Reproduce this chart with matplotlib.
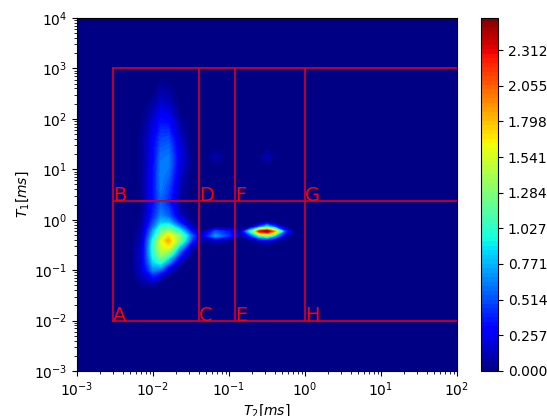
import numpy as np
import matplotlib
matplotlib.use('Agg')
import matplotlib.pyplot as plt

# log10 positions of the values
logT2 = [-3, -2.45, -2.3, -2.15, -2.0, -1.9, -1.8, -1.65, -1.5, -1.38, -1.18, -1.0,
         -0.85, -0.72, -0.6, -0.5, -0.4, -0.27, -0.15, 0.35, 0.53, 0.7, 2]
logT1 = [4, 2.8, 2.5, 2.2, 1.9, 1.55, 1.4, 1.24, 1.08, 0.9, 0.6, 0.3, 0.08, -0.05, -0.14, -0.23,
         -0.32, -0.42, -0.55, -0.7, -0.85, -1.0, -1.15, -1.3, -1.45, -3]

# one row per logT1 value, one column per logT2 value
density = [
    [0, 0, 0, 0, 0, 0, 0, 0, 0, 0, 0, 0, 0, 0, 0, 0, 0, 0, 0, 0, 0, 0, 0],
    [0, 0, 0, 0, 0, .03, 0, 0, 0, 0, 0, 0, 0, 0, 0, 0, 0, 0, 0, 0, 0, 0, 0],
    [0, 0, 0, 0, .02, .1, .07, 0, 0, 0, 0, 0, 0, 0, 0, 0, 0, 0, 0, 0, 0, 0, 0],
    [0, 0, 0, .01, .1, .22, .18, .02, 0, 0, 0, 0, 0, 0, 0, 0, 0, 0, 0, 0, 0, 0, 0],
    [0, 0, 0, .03, .2, .36, .34, .08, 0, 0, 0, 0, 0, 0, 0, 0, 0, 0, 0, 0, 0, 0, 0],
    [0, 0, 0, .05, .28, .5, .52, .16, 0, 0, 0, 0, 0, 0, 0, 0, 0, 0, 0, 0, 0, 0, 0],
    [0, 0, 0, .05, .3, .55, .58, .2, 0, 0, .02, 0, 0, 0, 0, .03, 0, 0, 0, 0, .01, 0, 0],
    [0, 0, 0, .05, .3, .6, .62, .22, .02, 0, .1, 0, 0, 0, .03, .12, .03, 0, 0, 0, .03, 0, 0],
    [0, 0, 0, .05, .32, .62, .62, .2, .01, 0, .02, 0, 0, 0, 0, .03, 0, 0, 0, 0, .01, 0, 0],
    [0, 0, 0, .05, .34, .64, .58, .16, 0, 0, 0, 0, 0, 0, 0, 0, 0, 0, 0, 0, 0, 0, 0],
    [0, 0, 0, .04, .35, .62, .48, .09, 0, 0, 0, 0, 0, 0, 0, 0, 0, 0, 0, 0, 0, 0, 0],
    [0, 0, 0, .03, .35, .55, .42, .06, 0, 0, 0, 0, 0, 0, 0, 0, 0, 0, 0, 0, 0, 0, 0],
    [0, 0, 0, .04, .4, .65, .55, .15, 0, 0, 0, 0, 0, 0, 0, 0, 0, 0, 0, 0, 0, 0, 0],
    [0, 0, 0, .06, .5, .8, .8, .35, .05, 0, 0, 0, 0, 0, 0, .05, 0, 0, 0, 0, 0, 0, 0],
    [0, 0, 0, .08, .6, 1.0, 1.1, .65, .15, 0, 0, 0, 0, .05, .5, .9, .5, .05, 0, 0, 0, 0, 0],
    [0, 0, 0, .1, .75, 1.2, 1.4, 1.0, .35, .03, .5, .35, .12, 1.0, 2.3, 2.52, 1.9, .5, .03, 0, 0, 0, 0],
    [0, 0, 0, .12, .85, 1.4, 1.7, 1.3, .6, .15, .7, .42, .03, .4, 1.0, 1.2, .8, .15, 0, 0, 0, 0, 0],
    [0, 0, 0, .15, 1.0, 1.6, 1.85, 1.25, .45, .05, .1, .02, 0, 0, .1, .15, .05, 0, 0, 0, 0, 0, 0],
    [0, 0, 0, .18, 1.05, 1.55, 1.6, .8, .12, 0, 0, 0, 0, 0, 0, 0, 0, 0, 0, 0, 0, 0, 0],
    [0, 0, 0, .2, 1.0, 1.35, 1.15, .4, .02, 0, 0, 0, 0, 0, 0, 0, 0, 0, 0, 0, 0, 0, 0],
    [0, 0, 0, .2, .85, 1.0, .65, .1, 0, 0, 0, 0, 0, 0, 0, 0, 0, 0, 0, 0, 0, 0, 0],
    [0, 0, 0, .18, .65, .55, .2, 0, 0, 0, 0, 0, 0, 0, 0, 0, 0, 0, 0, 0, 0, 0, 0],
    [0, 0, 0, .12, .3, .12, 0, 0, 0, 0, 0, 0, 0, 0, 0, 0, 0, 0, 0, 0, 0, 0, 0],
    [0, 0, 0, .04, .06, 0, 0, 0, 0, 0, 0, 0, 0, 0, 0, 0, 0, 0, 0, 0, 0, 0, 0],
    [0, 0, 0, 0, 0, 0, 0, 0, 0, 0, 0, 0, 0, 0, 0, 0, 0, 0, 0, 0, 0, 0, 0],
    [0, 0, 0, 0, 0, 0, 0, 0, 0, 0, 0, 0, 0, 0, 0, 0, 0, 0, 0, 0, 0, 0, 0],
]

cbar_ticks = [0.000, 0.257, 0.514, 0.771, 1.027, 1.284, 1.541, 1.798, 2.055, 2.312]
cmax = 2.543

# region boundaries and letters
t2_lines = [3.0e-3, 0.04, 0.12, 1.0]
t1_box = [1e-2, 2.33, 1e3]
t2_end = 100
lower_labels = ['A', 'C', 'E', 'H']
upper_labels = ['B', 'D', 'F', 'G']

W, H = 547, 416
fig = plt.figure(figsize=(W/100, H/100), dpi=100)
ax = fig.add_axes([77/W, 1-371/H, 380/W, 353/H])
cax = fig.add_axes([481/W, 1-371/H, 17/W, 353/H])

T2 = 10.0**np.array(logT2)
T1 = 10.0**np.array(logT1)
cs = ax.contourf(T2, T1, np.array(density), levels=np.linspace(0, cmax, 80), cmap='jet')
ax.set_xscale('log')
ax.set_yscale('log')
ax.set_xlim(1e-3, 1e2)
ax.set_ylim(1e-3, 1e4)
ax.set_xlabel('$T_2 [ms]$', labelpad=2)
ax.set_ylabel('$T_1 [ms]$', labelpad=2)

line_col = '#c80028'
for t2 in t2_lines:
    ax.plot([t2, t2], [t1_box[0], t1_box[2]], color=line_col, lw=1.3)
for t1 in t1_box:
    ax.plot([t2_lines[0], t2_end], [t1, t1], color=line_col, lw=1.3)
for t2, lab in zip(t2_lines, lower_labels):
    ax.text(t2, t1_box[0], lab, color='red', fontsize=14, va='baseline', ha='left')
for t2, lab in zip(t2_lines, upper_labels):
    ax.text(t2, t1_box[1], lab, color='red', fontsize=14, va='baseline', ha='left')

cb = fig.colorbar(cs, cax=cax)
cb.set_ticks(cbar_ticks)
cb.set_ticklabels(['%.3f' % v for v in cbar_ticks])

plt.savefig('out.png', dpi=100)
